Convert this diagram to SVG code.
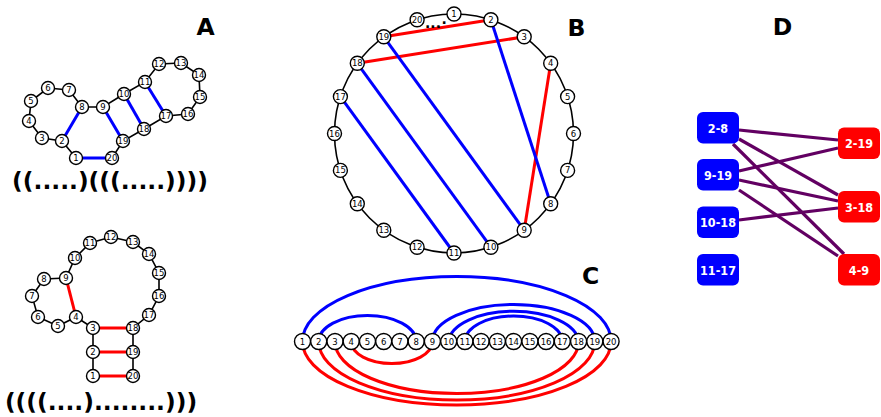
<svg xmlns="http://www.w3.org/2000/svg" width="881" height="417" viewBox="0 0 881 417">
<style>
.bb{stroke:#000;stroke-width:1.6;fill:none}
.bl{stroke:#0000ff;stroke-width:3;fill:none}
.rd{stroke:#ff0000;stroke-width:3;fill:none}
.pu{stroke:#620062;stroke-width:3.2;fill:none}
.n circle{fill:#fff;stroke:#000;stroke-width:1.4}
.n text{font-family:"DejaVu Sans",sans-serif;font-size:8.5px;text-anchor:middle;fill:#000}
.big{font-family:"DejaVu Sans",sans-serif;font-weight:bold;fill:#000}
.bx text{font-family:"DejaVu Sans Condensed","DejaVu Sans",sans-serif;font-weight:bold;font-size:12.5px;fill:#fff;text-anchor:middle}
</style>
<rect width="881" height="417" fill="#fff"/>
<g id="labels">
<text class="big" x="205.5" y="35" font-size="23.5" text-anchor="middle">A</text>
<text class="big" x="576.5" y="36" font-size="23.5" text-anchor="middle">B</text>
<text class="big" x="590.5" y="284" font-size="23.5" text-anchor="middle">C</text>
<text class="big" x="782.5" y="35" font-size="23.5" text-anchor="middle">D</text>
<text class="big" x="110" y="189" font-size="23.4" text-anchor="middle">((.....)(((.....))))</text>
<text class="big" x="101" y="410" font-size="23.4" text-anchor="middle">((((....)........)))</text>
</g>
<g id="connectors">
<polyline class="bb" points="76,158 62,141 42,138 29,121 31,101 48,88 69,90 82,107 103,107 124,94 145,82 159,64 181,63 199,75 200,97 188,114 166,116 144,129 123,141 112,158"/>
<line class="bl" x1="76" y1="158" x2="112" y2="158"/>
<line class="bl" x1="62" y1="141" x2="82" y2="107"/>
<line class="bl" x1="103" y1="107" x2="123" y2="141"/>
<line class="bl" x1="124" y1="94" x2="144" y2="129"/>
<line class="bl" x1="145" y1="82" x2="166" y2="116"/>
<polyline class="bb" points="93,376 93,352 93,328 76,317 58,326 38,317 32,296 44,279 66,278 75,258 90,243 111,237 133,242 149,254 159,273 159,296 149,315 133,328 133,352 133,376"/>
<line class="rd" x1="93" y1="376" x2="133" y2="376"/>
<line class="rd" x1="93" y1="352" x2="133" y2="352"/>
<line class="rd" x1="93" y1="328" x2="133" y2="328"/>
<line class="rd" x1="76" y1="317" x2="66" y2="278"/>
<circle class="bb" cx="454" cy="133.5" r="119.5"/>
<line class="rd" x1="490.9" y1="19.8" x2="383.8" y2="36.8"/>
<line class="rd" x1="524.2" y1="36.8" x2="357.3" y2="63.3"/>
<line class="rd" x1="550.7" y1="63.3" x2="524.2" y2="230.2"/>
<line class="bl" x1="490.9" y1="19.8" x2="550.7" y2="203.7"/>
<line class="bl" x1="524.2" y1="230.2" x2="383.8" y2="36.8"/>
<line class="bl" x1="490.9" y1="247.2" x2="357.3" y2="63.3"/>
<line class="bl" x1="454" y1="253" x2="340.4" y2="96.6"/>
<path class="bl" d="M302.5,341.5 A154.3,65 0 0 1 611.1,341.5"/>
<path class="bl" d="M318.7,341.5 A48.75,26 0 0 1 416.2,341.5"/>
<path class="bl" d="M432.4,341.5 A81.2,37 0 0 1 594.8,341.5"/>
<path class="bl" d="M448.7,341.5 A65,31.5 0 0 1 578.6,341.5"/>
<path class="bl" d="M464.9,341.5 A48.7,25.5 0 0 1 562.3,341.5"/>
<path class="rd" d="M302.5,341.5 A154.3,63.5 0 0 0 611.1,341.5"/>
<path class="rd" d="M318.7,341.5 A138,58.5 0 0 0 594.8,341.5"/>
<path class="rd" d="M335,341.5 A121.8,52 0 0 0 578.6,341.5"/>
<path class="rd" d="M351.2,341.5 A40.6,22 0 0 0 432.4,341.5"/>
<line class="pu" x1="739" y1="130" x2="838" y2="140"/>
<line class="pu" x1="739" y1="139" x2="838" y2="195"/>
<line class="pu" x1="733" y1="144" x2="844" y2="254"/>
<line class="pu" x1="739" y1="171" x2="838" y2="148"/>
<line class="pu" x1="739" y1="180" x2="838" y2="201"/>
<line class="pu" x1="739" y1="190" x2="838" y2="256"/>
<line class="pu" x1="739" y1="220" x2="838" y2="208"/>
</g>
<g id="nodesA1" class="n">
<g id="a1-1"><circle cx="76" cy="158" r="6.5"/><text x="76" y="161">1</text></g>
<g id="a1-2"><circle cx="62" cy="141" r="6.5"/><text x="62" y="144">2</text></g>
<g id="a1-3"><circle cx="42" cy="138" r="6.5"/><text x="42" y="141">3</text></g>
<g id="a1-4"><circle cx="29" cy="121" r="6.5"/><text x="29" y="124">4</text></g>
<g id="a1-5"><circle cx="31" cy="101" r="6.5"/><text x="31" y="104">5</text></g>
<g id="a1-6"><circle cx="48" cy="88" r="6.5"/><text x="48" y="91">6</text></g>
<g id="a1-7"><circle cx="69" cy="90" r="6.5"/><text x="69" y="93">7</text></g>
<g id="a1-8"><circle cx="82" cy="107" r="6.5"/><text x="82" y="110">8</text></g>
<g id="a1-9"><circle cx="103" cy="107" r="6.5"/><text x="103" y="110">9</text></g>
<g id="a1-10"><circle cx="124" cy="94" r="6.5"/><text x="124" y="97">10</text></g>
<g id="a1-11"><circle cx="145" cy="82" r="6.5"/><text x="145" y="85">11</text></g>
<g id="a1-12"><circle cx="159" cy="64" r="6.5"/><text x="159" y="67">12</text></g>
<g id="a1-13"><circle cx="181" cy="63" r="6.5"/><text x="181" y="66">13</text></g>
<g id="a1-14"><circle cx="199" cy="75" r="6.5"/><text x="199" y="78">14</text></g>
<g id="a1-15"><circle cx="200" cy="97" r="6.5"/><text x="200" y="100">15</text></g>
<g id="a1-16"><circle cx="188" cy="114" r="6.5"/><text x="188" y="117">16</text></g>
<g id="a1-17"><circle cx="166" cy="116" r="6.5"/><text x="166" y="119">17</text></g>
<g id="a1-18"><circle cx="144" cy="129" r="6.5"/><text x="144" y="132">18</text></g>
<g id="a1-19"><circle cx="123" cy="141" r="6.5"/><text x="123" y="144">19</text></g>
<g id="a1-20"><circle cx="112" cy="158" r="6.5"/><text x="112" y="161">20</text></g>
</g>
<g id="nodesA2" class="n">
<g id="a2-1"><circle cx="93" cy="376" r="6.5"/><text x="93" y="379">1</text></g>
<g id="a2-2"><circle cx="93" cy="352" r="6.5"/><text x="93" y="355">2</text></g>
<g id="a2-3"><circle cx="93" cy="328" r="6.5"/><text x="93" y="331">3</text></g>
<g id="a2-4"><circle cx="76" cy="317" r="6.5"/><text x="76" y="320">4</text></g>
<g id="a2-5"><circle cx="58" cy="326" r="6.5"/><text x="58" y="329">5</text></g>
<g id="a2-6"><circle cx="38" cy="317" r="6.5"/><text x="38" y="320">6</text></g>
<g id="a2-7"><circle cx="32" cy="296" r="6.5"/><text x="32" y="299">7</text></g>
<g id="a2-8"><circle cx="44" cy="279" r="6.5"/><text x="44" y="282">8</text></g>
<g id="a2-9"><circle cx="66" cy="278" r="6.5"/><text x="66" y="281">9</text></g>
<g id="a2-10"><circle cx="75" cy="258" r="6.5"/><text x="75" y="261">10</text></g>
<g id="a2-11"><circle cx="90" cy="243" r="6.5"/><text x="90" y="246">11</text></g>
<g id="a2-12"><circle cx="111" cy="237" r="6.5"/><text x="111" y="240">12</text></g>
<g id="a2-13"><circle cx="133" cy="242" r="6.5"/><text x="133" y="245">13</text></g>
<g id="a2-14"><circle cx="149" cy="254" r="6.5"/><text x="149" y="257">14</text></g>
<g id="a2-15"><circle cx="159" cy="273" r="6.5"/><text x="159" y="276">15</text></g>
<g id="a2-16"><circle cx="159" cy="296" r="6.5"/><text x="159" y="299">16</text></g>
<g id="a2-17"><circle cx="149" cy="315" r="6.5"/><text x="149" y="318">17</text></g>
<g id="a2-18"><circle cx="133" cy="328" r="6.5"/><text x="133" y="331">18</text></g>
<g id="a2-19"><circle cx="133" cy="352" r="6.5"/><text x="133" y="355">19</text></g>
<g id="a2-20"><circle cx="133" cy="376" r="6.5"/><text x="133" y="379">20</text></g>
</g>
<text class="big" x="425" y="27.5" font-size="14" text-anchor="start">...<tspan dx="0.5" dy="-4">.</tspan></text>
<g id="nodesB" class="n">
<g id="b-1"><circle cx="454" cy="14" r="7"/><text x="454" y="17">1</text></g>
<g id="b-2"><circle cx="490.9" cy="19.8" r="7"/><text x="490.9" y="22.8">2</text></g>
<g id="b-3"><circle cx="524.2" cy="36.8" r="7"/><text x="524.2" y="39.8">3</text></g>
<g id="b-4"><circle cx="550.7" cy="63.3" r="7"/><text x="550.7" y="66.3">4</text></g>
<g id="b-5"><circle cx="567.6" cy="96.6" r="7"/><text x="567.6" y="99.6">5</text></g>
<g id="b-6"><circle cx="573.5" cy="133.5" r="7"/><text x="573.5" y="136.5">6</text></g>
<g id="b-7"><circle cx="567.6" cy="170.4" r="7"/><text x="567.6" y="173.4">7</text></g>
<g id="b-8"><circle cx="550.7" cy="203.7" r="7"/><text x="550.7" y="206.7">8</text></g>
<g id="b-9"><circle cx="524.2" cy="230.2" r="7"/><text x="524.2" y="233.2">9</text></g>
<g id="b-10"><circle cx="490.9" cy="247.2" r="7"/><text x="490.9" y="250.2">10</text></g>
<g id="b-11"><circle cx="454" cy="253" r="7"/><text x="454" y="256">11</text></g>
<g id="b-12"><circle cx="417.1" cy="247.2" r="7"/><text x="417.1" y="250.2">12</text></g>
<g id="b-13"><circle cx="383.8" cy="230.2" r="7"/><text x="383.8" y="233.2">13</text></g>
<g id="b-14"><circle cx="357.3" cy="203.7" r="7"/><text x="357.3" y="206.7">14</text></g>
<g id="b-15"><circle cx="340.4" cy="170.4" r="7"/><text x="340.4" y="173.4">15</text></g>
<g id="b-16"><circle cx="334.5" cy="133.5" r="7"/><text x="334.5" y="136.5">16</text></g>
<g id="b-17"><circle cx="340.4" cy="96.6" r="7"/><text x="340.4" y="99.6">17</text></g>
<g id="b-18"><circle cx="357.3" cy="63.3" r="7"/><text x="357.3" y="66.3">18</text></g>
<g id="b-19"><circle cx="383.8" cy="36.8" r="7"/><text x="383.8" y="39.8">19</text></g>
<g id="b-20"><circle cx="417.1" cy="19.8" r="7"/><text x="417.1" y="22.8">20</text></g>
</g>
<g id="nodesC" class="n">
<g id="c-1"><circle cx="302.5" cy="341.5" r="8"/><text x="302.5" y="344.7">1</text></g>
<g id="c-2"><circle cx="318.7" cy="341.5" r="8"/><text x="318.7" y="344.7">2</text></g>
<g id="c-3"><circle cx="335" cy="341.5" r="8"/><text x="335" y="344.7">3</text></g>
<g id="c-4"><circle cx="351.2" cy="341.5" r="8"/><text x="351.2" y="344.7">4</text></g>
<g id="c-5"><circle cx="367.5" cy="341.5" r="8"/><text x="367.5" y="344.7">5</text></g>
<g id="c-6"><circle cx="383.7" cy="341.5" r="8"/><text x="383.7" y="344.7">6</text></g>
<g id="c-7"><circle cx="399.9" cy="341.5" r="8"/><text x="399.9" y="344.7">7</text></g>
<g id="c-8"><circle cx="416.2" cy="341.5" r="8"/><text x="416.2" y="344.7">8</text></g>
<g id="c-9"><circle cx="432.4" cy="341.5" r="8"/><text x="432.4" y="344.7">9</text></g>
<g id="c-10"><circle cx="448.7" cy="341.5" r="8"/><text x="448.7" y="344.7">10</text></g>
<g id="c-11"><circle cx="464.9" cy="341.5" r="8"/><text x="464.9" y="344.7">11</text></g>
<g id="c-12"><circle cx="481.1" cy="341.5" r="8"/><text x="481.1" y="344.7">12</text></g>
<g id="c-13"><circle cx="497.4" cy="341.5" r="8"/><text x="497.4" y="344.7">13</text></g>
<g id="c-14"><circle cx="513.6" cy="341.5" r="8"/><text x="513.6" y="344.7">14</text></g>
<g id="c-15"><circle cx="529.9" cy="341.5" r="8"/><text x="529.9" y="344.7">15</text></g>
<g id="c-16"><circle cx="546.1" cy="341.5" r="8"/><text x="546.1" y="344.7">16</text></g>
<g id="c-17"><circle cx="562.3" cy="341.5" r="8"/><text x="562.3" y="344.7">17</text></g>
<g id="c-18"><circle cx="578.6" cy="341.5" r="8"/><text x="578.6" y="344.7">18</text></g>
<g id="c-19"><circle cx="594.8" cy="341.5" r="8"/><text x="594.8" y="344.7">19</text></g>
<g id="c-20"><circle cx="611.1" cy="341.5" r="8"/><text x="611.1" y="344.7">20</text></g>
</g>
<g id="nodesD" class="bx">
<g id="d-2-8"><rect x="697" y="112" width="42" height="31.5" rx="6" fill="#0000ff"/><text x="718" y="132.5">2-8</text></g>
<g id="d-9-19"><rect x="697" y="159" width="42" height="31.5" rx="6" fill="#0000ff"/><text x="718" y="179.5">9-19</text></g>
<g id="d-10-18"><rect x="697" y="206.5" width="42" height="31.5" rx="6" fill="#0000ff"/><text x="718" y="227">10-18</text></g>
<g id="d-11-17"><rect x="697" y="254" width="42" height="31.5" rx="6" fill="#0000ff"/><text x="718" y="274.5">11-17</text></g>
<g id="d-2-19"><rect x="838" y="127.5" width="42" height="31.5" rx="6" fill="#ff0000"/><text x="859" y="148">2-19</text></g>
<g id="d-3-18"><rect x="838" y="191" width="42" height="31.5" rx="6" fill="#ff0000"/><text x="859" y="211.5">3-18</text></g>
<g id="d-4-9"><rect x="838" y="254" width="42" height="31.5" rx="6" fill="#ff0000"/><text x="859" y="274.5">4-9</text></g>
</g>
</svg>
